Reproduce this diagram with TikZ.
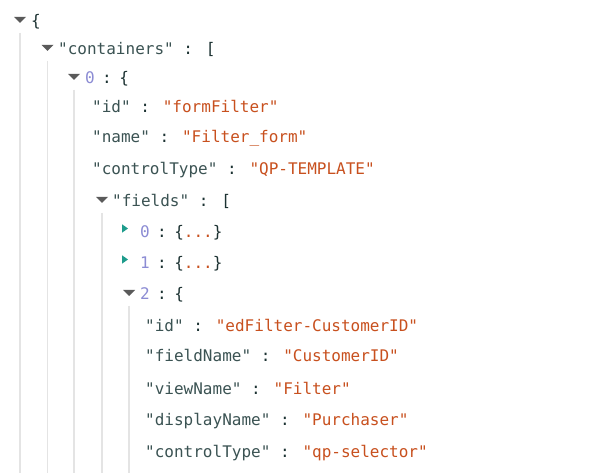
\documentclass[tikz,border=0pt]{standalone}
\usepackage{fontspec}
\newfontfamily\jsonfont{DejaVu Sans Mono}

\definecolor{keycol}{HTML}{3B5353}
\definecolor{valcol}{HTML}{C8501E}
\definecolor{idxcol}{HTML}{8C8CD4}
\definecolor{punccol}{HTML}{1C3232}
\definecolor{opencol}{HTML}{5A5A5A}
\definecolor{shutcol}{HTML}{1E9C8C}
\definecolor{guidecol}{HTML}{E4E4E4}

\newcommand\jk[1]{\textcolor{keycol}{"#1"}}
\newcommand\jv[1]{\textcolor{valcol}{"#1"}}
\newcommand\ji[1]{\textcolor{idxcol}{#1}}
\newcommand\jsep{\hspace{7.4pt}:\hspace{7.4pt}}

\tikzset{
  line/.style={anchor=base west,inner sep=0pt,text=punccol,
    font=\jsonfont\fontsize{16}{19}\selectfont},
  guide/.style={draw=guidecol,line width=1.3pt},
  open/.style={fill=opencol},
  shut/.style={fill=shutcol}
}

\begin{document}
\begin{tikzpicture}[x=1pt,y=-1pt]

\fill[white] (0,0) rectangle (603,473);
\useasboundingbox (0,0) rectangle (603,473);
\coordinate (bottom) at (0,473);

% The toggles
\coordinate (t-root) at (20,20);
\coordinate (t-cont) at (47.5,48);
\coordinate (t-item) at (74,77);
\coordinate (t-fields) at (102,200);
\coordinate (t-f0) at (125,228.5);
\coordinate (t-f1) at (125,259.5);
\coordinate (t-f2) at (129,293);

\foreach \t in {root,cont,item,fields,f2}
  \fill[open] (t-\t) ++(-6,-3) -- ++(12,0) -- ++(-6,6) -- cycle;
\foreach \t in {f0,f1}
  \fill[shut] (t-\t) ++(-3,-4.2) -- ++(0,8.4) -- ++(6,-4.2) -- cycle;

% The guides
\foreach \t in {root,cont,item,fields,f2}
  \draw[guide] ([yshift=-13pt]t-\t) -- (t-\t |- bottom);

% The open rows
\node[line] (root) at (31,27) {\{};
\node[line] (cont) at (58,55) {\jk{containers} : [};
\node[line] (item) at (85,84) {\ji{0}\jsep\{};
\node[line] (fields) at (112,207) {\jk{fields} : [};
\node[line] (f0) at (140,238) {\ji{0}\jsep\{\textcolor{valcol}{...}\}};
\node[line] (f1) at (140,269) {\ji{1}\jsep\{\textcolor{valcol}{...}\}};
\node[line] (f2) at (140,300) {\ji{2}\jsep\{};

% The leaves
\foreach \nm/\b/\k/\v in {id/113/id/formFilter, name/143/name/Filter\_form,
    ctype/175/controlType/QP-TEMPLATE}
  \node[line] (a-\nm) at (92,\b) {\jk{\k} : \jv{\v}};

\foreach \nm/\b/\k/\v in {id/331/id/edFilter-CustomerID,
    field/362/fieldName/CustomerID, view/394/viewName/Filter,
    disp/425/displayName/Purchaser, ctype/457/controlType/qp-selector}
  \node[line] (b-\nm) at (145,\b) {\jk{\k} : \jv{\v}};

\end{tikzpicture}
\end{document}
